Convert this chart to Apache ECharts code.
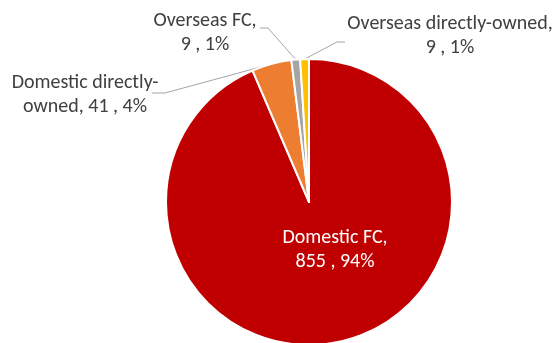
<!DOCTYPE html>
<html>
<head>
<meta charset="utf-8">
<script src="https://cdn.jsdelivr.net/npm/echarts@6/dist/echarts.min.js"></script>
<style>
  html, body { margin: 0; padding: 0; background: #ffffff; }
  #chart { width: 555px; height: 343px; }
</style>
</head>
<body>
<div id="chart"></div>
<script>
// Fuel-station ownership breakdown
const categories = ['Domestic FC', 'Domestic directly-owned', 'Overseas FC', 'Overseas directly-owned'];
const values = [855, 41, 9, 9];
// where each label's text wraps onto a second line
const labelHeads = ['Domestic FC,', 'Domestic directly-', 'Overseas FC,', 'Overseas directly-owned,'];

const colors = ['#C00000', '#ED7D31', '#A5A5A5', '#FFC000'];

// label placement: centre of text block plus the bend/end of the leader line
const labelPlacement = [
  { x: 335, y: 250 },
  { x: 85, y: 95, bend: [165, 93], end: [152, 93] },
  { x: 205, y: 33, bend: [268, 28], end: [260, 28] },
  { x: 450, y: 36, bend: [337, 42], end: [345, 42] }
];

const CENTER = [309, 202];
const RADIUS = 143;

const chart = echarts.init(document.getElementById('chart'), null, { renderer: 'canvas' });

const total = values.reduce((a, b) => a + b, 0);
function arcAnchor(i) {
  let before = 0;
  for (let k = 0; k < i; k++) before += values[k];
  const midFrac = (before + values[i] / 2) / total;
  const ang = midFrac * 2 * Math.PI; // clockwise from 12 o'clock
  return [CENTER[0] + RADIUS * Math.sin(ang), CENTER[1] - RADIUS * Math.cos(ang)];
}

const seriesData = categories.map((name, i) => {
  const item = { name: name, value: values[i], itemStyle: { color: colors[i] } };
  if (i === 0) {
    item.label = { position: 'inside', color: '#ffffff' };
    item.labelLine = { show: false };
  }
  return item;
});

chart.setOption({
  animation: false,
  backgroundColor: '#ffffff',
  series: [{
    type: 'pie',
    center: CENTER,
    radius: [0, RADIUS],
    startAngle: 90,
    clockwise: true,
    avoidLabelOverlap: false,
    percentPrecision: 0,
    data: seriesData,
    itemStyle: { borderColor: '#ffffff', borderWidth: 2 },
    emphasis: { disabled: true },
    label: {
      show: true,
      position: 'outside',
      color: '#404040',
      fontFamily: 'Carlito, Lato, sans-serif',
      fontSize: 20,
      lineHeight: 24,
      align: 'center',
      formatter: function (p) {
        const head = labelHeads[p.dataIndex];
        const full = p.name + ', ' + p.value + ' , ' + p.percent + '%';
        return head + '\n' + full.slice(head.length).trim();
      }
    },
    labelLine: {
      show: true,
      length: 10,
      length2: 10,
      lineStyle: { color: '#A6A6A6', width: 1 }
    },
    labelLayout: function (params) {
      const i = params.dataIndex;
      const L = labelPlacement[i];
      const out = { x: L.x, y: L.y, align: 'center', verticalAlign: 'middle' };
      if (L.bend) {
        const pts = params.labelLinePoints;
        const start = pts && pts[0] ? pts[0] : arcAnchor(i);
        out.labelLinePoints = [start, L.bend, L.end];
      }
      return out;
    }
  }]
});
</script>
</body>
</html>
